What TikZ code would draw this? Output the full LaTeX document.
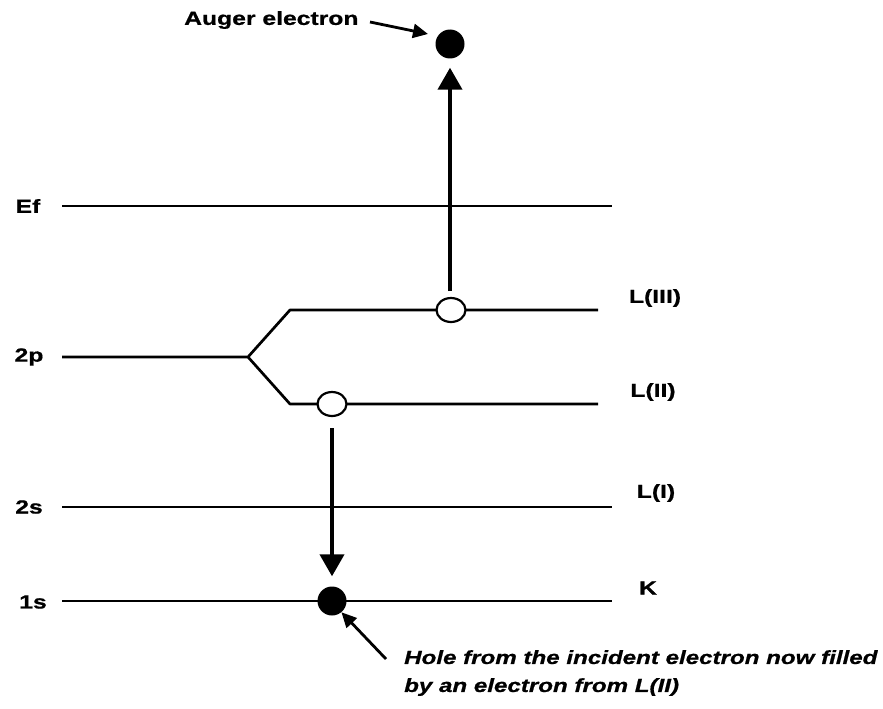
\documentclass[tikz,border=0pt]{standalone}
\usepackage{fontspec}
\setmainfont{Liberation Sans}[BoldFeatures={FakeStretch=1.3,FakeBold=0.8},BoldItalicFeatures={FakeStretch=1.27,FakeBold=0.8}]
\usetikzlibrary{arrows.meta,shapes.geometric}
\begin{document}
\begin{tikzpicture}[x=1pt,y=-1pt,
  level/.style={line width=2.7pt},
  lbl/.style={font=\fontsize{19}{22}\selectfont\bfseries, inner sep=0pt},
  hole/.style={draw, ellipse, line width=2.2pt, minimum width=29pt, minimum height=24pt, inner sep=0pt, fill=white},
  elec/.style={fill=black, circle, minimum size=29pt, inner sep=0pt},
  bigarrow/.style={line width=4pt, -{Triangle[width=24pt,length=22pt]}},
  smallarrow/.style={line width=2.8pt, -{Triangle[width=14pt,length=15pt]}}]
\useasboundingbox (0,0) rectangle (883,709);
% left labels
\node[lbl] (Ef) at (28,206) {Ef};
\node[lbl] (p2) at (29,357) {2p};
\node[lbl] (s2) at (29,507) {2s};
\node[lbl] (s1) at (33,602) {1s};
% level lines
\coordinate (efL) at (62,206); \coordinate (efR) at (612,206);
\draw[level] (efL) -- (efR);
\coordinate (pL) at (62,357); \coordinate (pS) at (248,357);
\coordinate (l3a) at (290,310); \coordinate (l3b) at (598,310);
\coordinate (l2a) at (290,404); \coordinate (l2b) at (598,404);
\draw[level, line join=round] (pL) -- (pS) -- (l3a) -- (l3b);
\draw[level, line join=round] (pS) -- (l2a) -- (l2b);
\coordinate (sL) at (62,507); \coordinate (sR) at (612,507);
\draw[level] (sL) -- (sR);
\coordinate (kL) at (62,601); \coordinate (kR) at (612,601);
\draw[level] (kL) -- (kR);
% right labels
\node[lbl] (L3) at (655,298) {L(III)};
\node[lbl] (L2) at (653,392) {L(II)};
\node[lbl] (L1) at (656,493) {L(I)};
\node[lbl] (K) at (648,588) {K};
% holes and electrons
\node[hole] (h3) at (451,310) {};
\node[hole] (h2) at (332,404) {};
\node[elec] (e1) at (332,601) {};
\node[elec] (ea) at (450,44) {};
% transitions
\coordinate (d0) at (332,428);
\draw[bigarrow] (d0) -- ([yshift=10pt]e1.north);
\coordinate (u0) at (450,291);
\draw[bigarrow] (u0) -- ([yshift=-9pt]ea.south);
% annotations
\node[lbl, anchor=west] (auger) at (184,20) {Auger electron};
\coordinate (a0) at (370,22);
\draw[smallarrow] (a0) -- (428,34);
\node[lbl, anchor=north west, align=left, font=\fontsize{19}{28}\selectfont\bfseries\itshape] (holetxt) at (404,650) {Hole from the incident electron now filled\\by an electron from L(II)};
\coordinate (b0) at (386,659);
\draw[smallarrow] (b0) -- (e1.-50);
\end{tikzpicture}
\end{document}
